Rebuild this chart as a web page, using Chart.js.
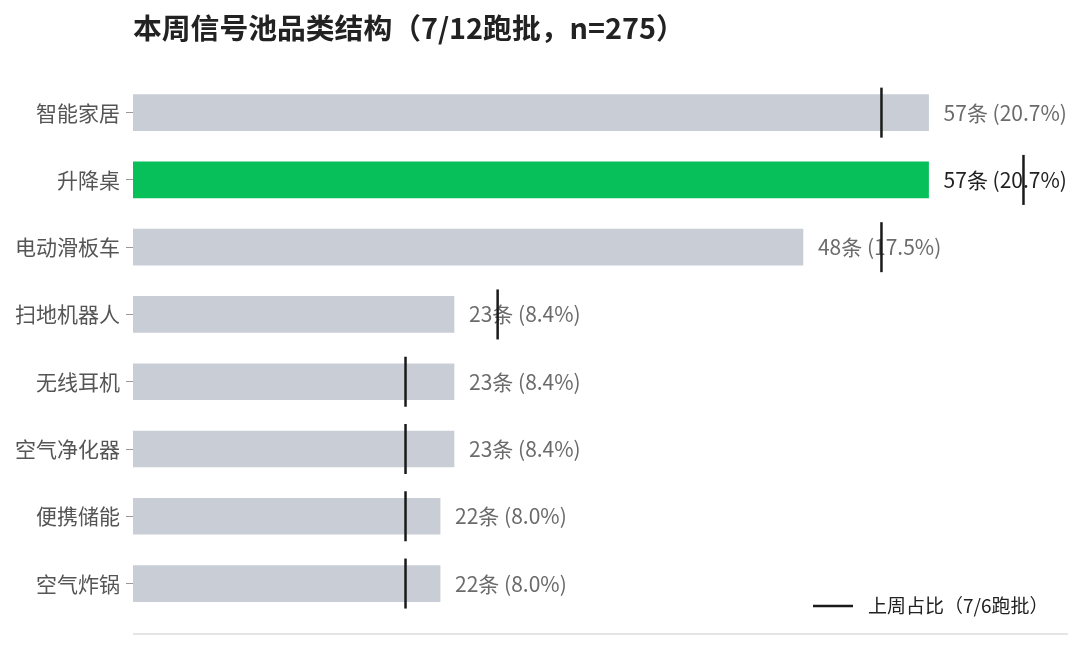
<!DOCTYPE html>
<html>
<head>
<meta charset="utf-8">
<script src="https://cdn.jsdelivr.net/npm/chart.js@4"></script>
<style>
  html, body { margin: 0; padding: 0; background: #fff; }
  #wrap { width: 1080px; height: 648px; position: relative; }
</style>
</head>
<body>
<div id="wrap"><canvas id="poolChart"></canvas></div>
<script>
const categories = ['智能家居', '升降桌', '电动滑板车', '扫地机器人', '无线耳机', '空气净化器', '便携储能', '空气炸锅'];
const counts = [57, 57, 48, 23, 23, 23, 22, 22];
const lastWeekShare = [19.5, 23.2, 19.5, 9.5, 7.1, 7.1, 7.1, 7.1];
const total = 275;
const highlight = '升降桌';

const titleText = '本周信号池品类结构（7/12跑批，n=275）';
const legendText = '上周占比（7/6跑批）';
const fontFamily = '"Noto Sans CJK SC", "Noto Sans", sans-serif';

const shares = counts.map(c => c / total * 100);

// value labels, title, legend and bottom line
const decorPlugin = {
    id: 'decor',
    beforeDatasetsDraw(chart) {
        const { ctx, scales } = chart;
        ctx.save();
        ctx.font = '21px ' + fontFamily;
        ctx.textBaseline = 'middle';
        ctx.textAlign = 'left';
        categories.forEach((cat, i) => {
            const x = scales.x.getPixelForValue(shares[i]) + 15;
            const y = scales.y.getPixelForValue(i);
            ctx.fillStyle = cat === highlight ? '#222' : '#6b6b6b';
            ctx.fillText(counts[i] + '条 (' + shares[i].toFixed(1) + '%)', x, y);
        });
        ctx.restore();
    },
    afterDraw(chart) {
        const { ctx, chartArea } = chart;
        ctx.save();
        // title
        ctx.font = 'bold 28.8px ' + fontFamily;
        ctx.fillStyle = '#222';
        ctx.textBaseline = 'middle';
        ctx.textAlign = 'left';
        ctx.fillText(titleText, chartArea.left, 28);
        // bottom axis line
        ctx.strokeStyle = '#dddddd';
        ctx.lineWidth = 1.5;
        ctx.beginPath();
        ctx.moveTo(chartArea.left, chartArea.bottom);
        ctx.lineTo(chartArea.right, chartArea.bottom);
        ctx.stroke();
        // legend
        const ly = chartArea.bottom - 28;
        ctx.strokeStyle = '#1a1a1a';
        ctx.lineWidth = 2.5;
        ctx.beginPath();
        ctx.moveTo(chartArea.right - 255, ly);
        ctx.lineTo(chartArea.right - 215, ly);
        ctx.stroke();
        ctx.font = '19px ' + fontFamily;
        ctx.fillStyle = '#222';
        ctx.fillText(legendText, chartArea.right - 200, ly);
        ctx.restore();
    }
};

const ctx = document.getElementById('poolChart').getContext('2d');
new Chart(ctx, {
    type: 'bar',
    data: {
        datasets: [
            {
                type: 'bar',
                label: '本周占比',
                data: shares.map((v, i) => ({ x: v, y: i })),
                backgroundColor: categories.map(c => c === highlight ? '#08c05a' : '#c8cdd6'),
                borderWidth: 0,
                barThickness: 36,
                order: 2
            },
            {
                type: 'scatter',
                label: legendText,
                data: lastWeekShare.map((v, i) => ({ x: v, y: i })),
                pointStyle: 'line',
                rotation: 90,
                radius: 25,
                borderWidth: 2.5,
                borderColor: '#1a1a1a',
                backgroundColor: '#1a1a1a',
                order: 1
            }
        ]
    },
    options: {
        indexAxis: 'y',
        responsive: true,
        maintainAspectRatio: false,
        animation: false,
        layout: { autoPadding: false, padding: { top: 79, bottom: 14, right: 12, left: 0 } },
        plugins: {
            legend: { display: false },
            tooltip: { enabled: false }
        },
        scales: {
            x: {
                type: 'linear',
                display: false,
                offset: false,
                min: 0,
                max: 24.36
            },
            y: {
                type: 'linear',
                reverse: true,
                offset: false,
                min: -0.5,
                max: 7.75,
                afterBuildTicks: axis => {
                    axis.ticks = categories.map((c, i) => ({ value: i }));
                },
                afterFit: axis => {
                    axis.width = 133;
                    axis.paddingTop = 0;
                    axis.paddingBottom = 0;
                },
                ticks: {
                    autoSkip: false,
                    padding: 6,
                    color: '#555',
                    font: { size: 21, family: fontFamily },
                    callback: v => categories[v]
                },
                grid: {
                    offset: false,
                    drawOnChartArea: false,
                    drawTicks: true,
                    tickLength: 7,
                    color: '#999',
                    lineWidth: 1
                },
                border: { display: false }
            }
        }
    },
    plugins: [decorPlugin]
});
</script>
</body>
</html>
